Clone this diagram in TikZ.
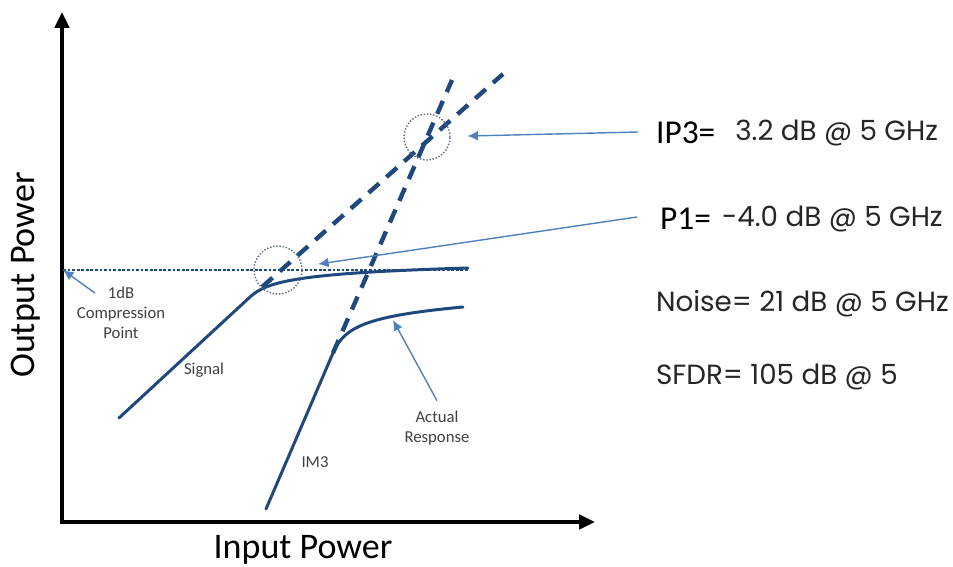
\documentclass[tikz,border=0pt]{standalone}
\usepackage{fontspec}
\setmainfont{Carlito}
\newfontfamily\valfont{Poppins}
\usetikzlibrary{arrows.meta,positioning,calc}
\definecolor{curve}{RGB}{31,73,125}
\definecolor{pointer}{RGB}{79,129,189}
\definecolor{ring}{RGB}{95,105,135}
\definecolor{note}{RGB}{64,64,64}

\begin{document}
\begin{tikzpicture}[x=0.02cm, y=-0.02cm, >=Latex, font=\small,
  axis/.style={line width=2.3pt, -{Triangle[length=9pt,width=8pt]}},
  resp/.style={draw=curve, line width=1.7pt, line cap=round},
  extra/.style={draw=curve, line width=2.5pt, dash pattern=on 8pt off 5.5pt},
  ringmark/.style={draw=ring, densely dotted, thick, circle, inner sep=0pt},
  pointer/.style={-{Latex[length=6pt,width=5.5pt]}, draw=pointer, thick},
  note/.style={text=note, font=\fontsize{9.5}{11.3}\selectfont, align=center},
  big/.style={text=black, font=\fontsize{20.5}{24}\selectfont},
  merit/.style={text=black, font=\fontsize{19}{22}\selectfont, anchor=west, inner sep=1pt},
  val/.style={text=black!85, font=\valfont\fontsize{15.8}{18}\selectfont, anchor=west, inner sep=1pt}]
\useasboundingbox (0,0) rectangle (953,566);

% axes
\coordinate(origin) at (62,522);
\coordinate(ytop) at (62,12);
\coordinate(xend) at (595,522);
\draw[axis] ($(origin)+(-2,0)$) -- (xend);
\draw[axis] ($(origin)+(0,2)$) -- (ytop);
\node(outp)[big,rotate=90] at (26,275) {Output Power};
\node(inp)[big] at (303,550) {Input Power};

% compression level
\coordinate(knee) at (63,270);
\draw[curve, densely dotted, line width=1.6pt] (knee) -- (468,270);

% fundamental and third order responses
\draw[resp] (119,418) -- (250,297) .. controls (267,281) and (300,273) .. (468,268);
\draw[resp] (266,509) -- (333,353) .. controls (344,327) and (366,316) .. (463,307);

% extrapolated lines
\draw[extra] (262,287) -- (503,74);
\draw[extra] (333,353) -- (452,80);

\node(p1)[ringmark, minimum size=0.96cm] at (278,270) {};
\node(ip3)[ringmark, minimum size=0.92cm] at (427,137) {};

% labels on the plot
\node(cp)[note] at (121,313) {1dB\\Compression\\Point};
\node(sig)[note] at (204,370) {Signal};
\node(im3)[note] at (315,462) {IM3};
\node(ar)[note] at (437,428) {Actual\\Response};
\coordinate(arpt) at (393,320);

% figures of merit
\node(ip3lab)[merit] at (654,133) {IP3=};
\node(ip3val)[val, right=9pt of ip3lab] {3.2 dB @ 5 GHz};
\node(p1lab)[merit] at (658,219) {P1=};
\node(p1val)[val, right=4pt of p1lab] {-4.0 dB @ 5 GHz};
\node(noise)[val] at (654,304) {Noise= 21 dB @ 5 GHz};
\node(sfdr)[val] at (654,377) {SFDR= 105 dB @ 5};

% Arrows
\draw[pointer, shorten >=9.5pt] ($(ip3lab.west)+(-16,-1)$) -- (ip3);
\draw[pointer, shorten >=9pt] ($(p1lab.west)+(-21,-2)$) -- (p1);
\draw[pointer] ($(cp.north)+(-26,12)$) -- (knee);
\draw[pointer] ($(ar.north)+(0,-4)$) -- (arpt);
\end{tikzpicture}
\end{document}
